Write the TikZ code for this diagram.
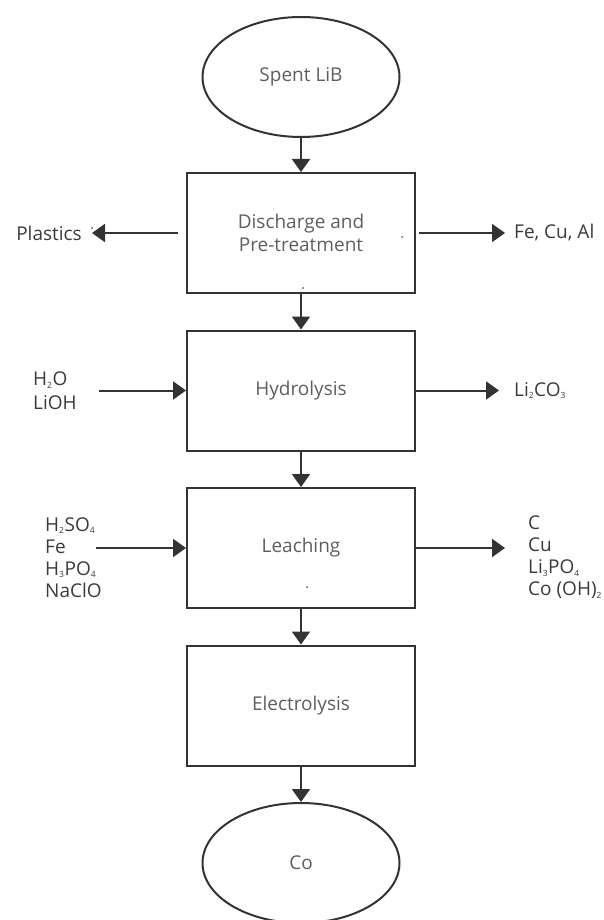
\documentclass[tikz,border=0pt]{standalone}
\usepackage{fontspec}
\setmainfont{Open Sans}
\usetikzlibrary{arrows.meta,shapes.geometric}
\definecolor{edge}{HTML}{333333}
\definecolor{intxt}{HTML}{5e5e5e}
\definecolor{outtxt}{HTML}{3a3a3a}
\newcommand{\sbs}[1]{\textsubscript{\fontsize{8.5}{8.5}\selectfont #1}}
\begin{document}
\begin{tikzpicture}[x=1pt,y=-1pt,
	every node/.style={font=\fontsize{19}{23}\selectfont},
	stage/.style={draw=edge,line width=2pt,minimum width=228pt,minimum height=120pt,text=intxt,align=center},
	endp/.style={ellipse,draw=edge,line width=2pt,minimum width=197pt,minimum height=120pt,text=intxt},
	side/.style={inner sep=0pt,text=outtxt,align=left},
	flow/.style={draw=edge,line width=2pt,-{Triangle[length=13pt,width=18pt]}}]
	\useasboundingbox (0,0) rectangle (604,920);
	\node[endp] (lib) at (301,77) {Spent LiB};
	\node[stage] (pre) at (301,233) {Discharge and\\Pre-treatment};
	\node[stage] (hyd) at (301,390.5) {Hydrolysis};
	\node[stage] (lea) at (301,548) {Leaching};
	\node[stage] (ele) at (301,705.5) {Electrolysis};
	\node[endp] (co) at (301,863) {Co};
	
	\node[side,anchor=east] (pla) at (82,233) {Plastics};
	\node[side,anchor=west] (fca) at (514,233) {Fe, Cu, Al};
	\node[side,anchor=west,font=\fontsize{19}{24}\selectfont] (hin) at (33,391) {H\sbs{2}O\\LiOH};
	\node[side,anchor=west] (hout) at (514,390.5) {Li\sbs{2}CO\sbs{3}};
	\node[side,anchor=west,font=\fontsize{19}{22}\selectfont] (lin) at (45,557.5) {H\sbs{2}SO\sbs{4}\\Fe\\H\sbs{3}PO\sbs{4}\\NaClO};
	\node[side,anchor=west,font=\fontsize{19}{22}\selectfont] (lout) at (528,557.5) {C\\Cu\\Li\sbs{3}PO\sbs{4}\\Co (OH)\sbs{2}};
	\coordinate (hfrom) at (99,390.5);
	\coordinate (lfrom) at (96,548);
	\coordinate (lto) at (505,548);
	
	\draw[flow] (lib) -- (pre);
	\draw[flow] (pre) -- (hyd);
	\draw[flow] (hyd) -- (lea);
	\draw[flow] (lea) -- (ele);
	\draw[flow] (ele) -- (co);
	\draw[flow,shorten <=8pt,shorten >=10pt] (pre.west) -- (pla.east);
	\draw[flow,shorten <=3pt,shorten >=9pt] (pre.east) -- (fca.west);
	\draw[flow] (hfrom) -- (hyd.west);
	\draw[flow,shorten >=15pt] (hyd.east) -- (hout.west);
	\draw[flow] (lfrom) -- (lea.west);
	\draw[flow] (lea.east) -- (lto);
	
	\fill[intxt] (92,228) circle (1pt);
	\fill[intxt] (402,237) circle (1pt);
	\fill[intxt] (303,288) circle (1pt);
	\fill[intxt] (307,587) circle (1pt);
\end{tikzpicture}
\end{document}
